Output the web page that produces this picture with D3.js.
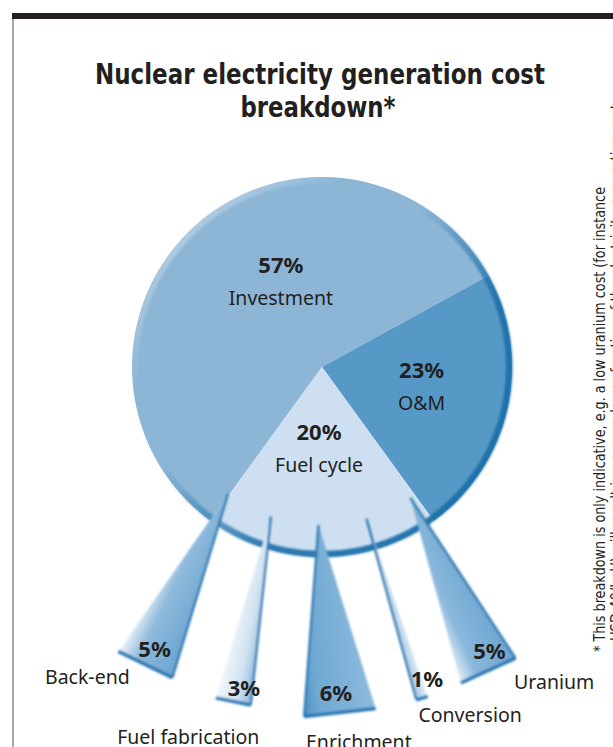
<!DOCTYPE html>
<html>
<head>
<meta charset="utf-8">
<script src="https://cdn.jsdelivr.net/npm/d3@7"></script>
<style>
  html, body { margin: 0; padding: 0; background: #fff; }
  svg { display: block; }
</style>
</head>
<body>
<div id="chart"></div>
<script>
// main split of the generation cost (%)
const mainCategories = ["Investment", "O&M", "Fuel cycle"];
const mainValues = [57, 23, 20];

// fuel cycle split (%), clockwise from the O&M side
const fuelCategories = ["Uranium", "Conversion", "Enrichment", "Fuel fabrication", "Back-end"];
const fuelValues = [5, 1, 6, 3, 5];

const titleLines = ["Nuclear electricity generation cost", "breakdown*"];
const noteLines = [
  "* This breakdown is only indicative, e.g. a low uranium cost (for instance",
  "<USD 40/kgU) will result in an even lower fraction of the electricity generation cost"
];

// layout + styles
const width = 613, height = 747;
const cx = 322, cy = 367, radius = 190;
const ink = "#231f20";
const labelFont = "'Noto Sans', 'Open Sans', sans-serif";
const narrowFont = "'Liberation Sans Narrow', 'DejaVu Sans Condensed', 'Noto Sans', sans-serif";

const sliceColors = { "Investment": "#8db6d6", "O&M": "#5699c6", "Fuel cycle": "#cddff0" };
const sliceLabelShift = { "Investment": [25, -19], "O&M": [2, -11], "Fuel cycle": [-3, -27] };

const wedgeShades = {
  "Uranium": { stops: [[0, "#e3eef7"], [0.3, "#8ab8db"], [1, "#6aa4d0"]], edge: "right" },
  "Conversion": { stops: [[0, "#9fc3e1"], [1, "#e6f0f8"]], edge: "left" },
  "Enrichment": { stops: [[0, "#4b90c4"], [0.2, "#6ea8d2"], [1, "#8dbadd"]], edge: "left" },
  "Fuel fabrication": { stops: [[0, "#f4f8fc"], [0.6, "#cfe1f0"], [1, "#8ab8dc"]], edge: "right" },
  "Back-end": { stops: [[0, "#eef4fa"], [0.35, "#8fbadb"], [1, "#6aa4d0"]], edge: "right" }
};
// label offsets from the wedge base
const wedgeLabelShift = {
  "Uranium": [66, 19], "Conversion": [48, 24], "Enrichment": [19, 36],
  "Fuel fabrication": [-45, 43], "Back-end": [-58, 19]
};
const wedgePctShift = {
  "Uranium": [10, -4], "Conversion": [10, -2], "Enrichment": [-3, -2],
  "Fuel fabrication": [6, 4], "Back-end": [0, 0]
};

const rad = a => a * Math.PI / 180;
function polar(r, a) { return [cx + r * Math.sin(a), cy - r * Math.cos(a)]; }

const svg = d3.select("#chart")
  .append("svg")
  .attr("width", width)
  .attr("height", height);

const defs = svg.append("defs");

defs.append("filter").attr("id", "soft")
  .attr("x", "-20%").attr("y", "-20%").attr("width", "140%").attr("height", "140%")
  .append("feGaussianBlur").attr("stdDeviation", 1.1);

const rimGrad = defs.append("linearGradient").attr("id", "rim")
  .attr("x1", 0).attr("y1", 0).attr("x2", 1).attr("y2", 1);
[[0, "#ffffff", 0.6], [0.28, "#ffffff", 0], [0.42, "#1d6fa9", 0], [0.55, "#1d6fa9", 0.55], [0.65, "#1d6fa9", 0.9], [1, "#1d6fa9", 1]]
  .forEach(s => rimGrad.append("stop").attr("offset", s[0]).attr("stop-color", s[1]).attr("stop-opacity", s[2]));

// frame
svg.append("rect").attr("x", 12).attr("y", 13).attr("width", width - 12).attr("height", 6).attr("fill", ink);
svg.append("line").attr("x1", 13).attr("x2", 13).attr("y1", 19).attr("y2", height)
  .attr("stroke", "#8a8a8a").attr("stroke-width", 1.5);

// title
svg.selectAll(".title")
  .data(titleLines)
  .enter()
  .append("text")
  .attr("class", "title")
  .attr("x", (d, i) => i === 0 ? 320 : 318)
  .attr("y", (d, i) => 84 + i * 33)
  .attr("text-anchor", "middle")
  .attr("textLength", (d, i) => i === 0 ? 450 : 155)
  .attr("lengthAdjust", "spacingAndGlyphs")
  .style("font-family", narrowFont)
  .style("font-weight", "bold")
  .style("font-size", "29px")
  .style("fill", ink)
  .text(d => d);

// main pie
const pie = d3.pie().sort(null).startAngle(rad(-144)).endAngle(rad(216));
const pieData = pie(mainValues);
pieData.forEach((d, i) => d.name = mainCategories[i]);
const arc = d3.arc().innerRadius(0).outerRadius(radius);

const pieG = svg.append("g").attr("transform", "translate(" + cx + "," + cy + ")");
pieG.selectAll("path.slice")
  .data(pieData)
  .enter()
  .append("path")
  .attr("class", "slice")
  .attr("d", arc)
  .attr("fill", d => sliceColors[d.name]);

// shaded rim around the pie
pieG.append("path")
  .attr("d", d3.arc().innerRadius(radius - 6).outerRadius(radius + 0.5).startAngle(0).endAngle(2 * Math.PI)())
  .attr("fill", "url(#rim)")
  .attr("filter", "url(#soft)");

// fuel cycle wedges
const fuelSlice = pieData[2];
const subData = d3.pie().sort(null)
  .startAngle(fuelSlice.startAngle)
  .endAngle(fuelSlice.endAngle)(fuelValues);

const rApex = 158, rBase = 346, rPct = 328;
const apexFrom = fuelSlice.startAngle + rad(2), apexTo = fuelSlice.endAngle + rad(0.5);

subData.forEach((d, i) => {
  d.name = fuelCategories[i];
  const mid = (d.startAngle + d.endAngle) / 2;
  d.apex = polar(rApex, apexFrom + (apexTo - apexFrom) * i / (subData.length - 1));
  d.baseAngle = Math.PI + (mid - Math.PI) * 1.1 + rad(1);
  d.base = polar(rBase, d.baseAngle);
  const dx = d.base[0] - d.apex[0], dy = d.base[1] - d.apex[1];
  const len = Math.hypot(dx, dy);
  const ux = dx / len, uy = dy / len;
  const half = len * Math.tan((d.endAngle - d.startAngle) / 2);
  const px = uy, py = -ux;
  d.left = [d.base[0] - px * half, d.base[1] - py * half];
  d.right = [d.base[0] + px * half, d.base[1] + py * half];
});

subData.forEach((d, i) => {
  const g = defs.append("linearGradient").attr("id", "wg" + i)
    .attr("gradientUnits", "userSpaceOnUse")
    .attr("x1", d.left[0]).attr("y1", d.left[1])
    .attr("x2", d.right[0]).attr("y2", d.right[1]);
  wedgeShades[d.name].stops.forEach(s => g.append("stop").attr("offset", s[0]).attr("stop-color", s[1]));
});

const wedgeG = svg.append("g").attr("filter", "url(#soft)");
wedgeG.selectAll("path.wedge")
  .data(subData)
  .enter()
  .append("path")
  .attr("class", "wedge")
  .attr("d", d => "M" + d.apex + "L" + d.left + "L" + d.right + "Z")
  .attr("fill", (d, i) => "url(#wg" + i + ")");

// dark side edge
wedgeG.selectAll("line.edge")
  .data(subData)
  .enter()
  .append("line")
  .attr("x1", d => d.apex[0]).attr("y1", d => d.apex[1])
  .attr("x2", d => (wedgeShades[d.name].edge === "left" ? d.left : d.right)[0])
  .attr("y2", d => (wedgeShades[d.name].edge === "left" ? d.left : d.right)[1])
  .attr("stroke", "#2a78b2")
  .attr("stroke-width", 2.3);

// dark base
wedgeG.selectAll("line.base")
  .data(subData)
  .enter()
  .append("line")
  .attr("x1", d => d.left[0]).attr("y1", d => d.left[1])
  .attr("x2", d => d.right[0]).attr("y2", d => d.right[1])
  .attr("stroke", "#2a78b2")
  .attr("stroke-width", 3.5);

// labels inside the pie
pieData.forEach(d => {
  const p = polar(100, (d.startAngle + d.endAngle) / 2);
  const s = sliceLabelShift[d.name];
  const x = p[0] + s[0], y = p[1] + s[1];
  svg.append("text")
    .attr("x", x).attr("y", y)
    .attr("text-anchor", "middle")
    .style("font-family", labelFont).style("font-weight", "bold").style("font-size", "22px")
    .style("fill", ink)
    .text(d.value + "%");
  svg.append("text")
    .attr("x", x).attr("y", y + 32)
    .attr("text-anchor", "middle")
    .style("font-family", labelFont).style("font-size", "19.5px")
    .style("fill", ink)
    .text(d.name);
});

// wedge labels
subData.forEach(d => {
  const p = polar(rPct, d.baseAngle);
  const ps = wedgePctShift[d.name];
  svg.append("text")
    .attr("x", p[0] + ps[0]).attr("y", p[1] + 8 + ps[1])
    .attr("text-anchor", "middle")
    .style("font-family", labelFont).style("font-weight", "bold").style("font-size", "22px")
    .style("fill", ink)
    .text(d.value + "%");
  const s = wedgeLabelShift[d.name];
  svg.append("text")
    .attr("x", d.base[0] + s[0]).attr("y", d.base[1] + s[1])
    .attr("text-anchor", "middle")
    .style("font-family", labelFont).style("font-size", "19.5px")
    .style("fill", ink)
    .text(d.name);
});

// rotated footnote
svg.selectAll(".note")
  .data(noteLines)
  .enter()
  .append("text")
  .attr("class", "note")
  .attr("transform", (d, i) => "translate(" + (605 + i * 17) + ",652) rotate(-90)")
  .attr("textLength", (d, i) => i === 0 ? 465 : 548)
  .attr("lengthAdjust", "spacingAndGlyphs")
  .style("font-family", narrowFont)
  .style("font-size", "15px")
  .style("fill", ink)
  .text(d => d);
</script>
</body>
</html>
